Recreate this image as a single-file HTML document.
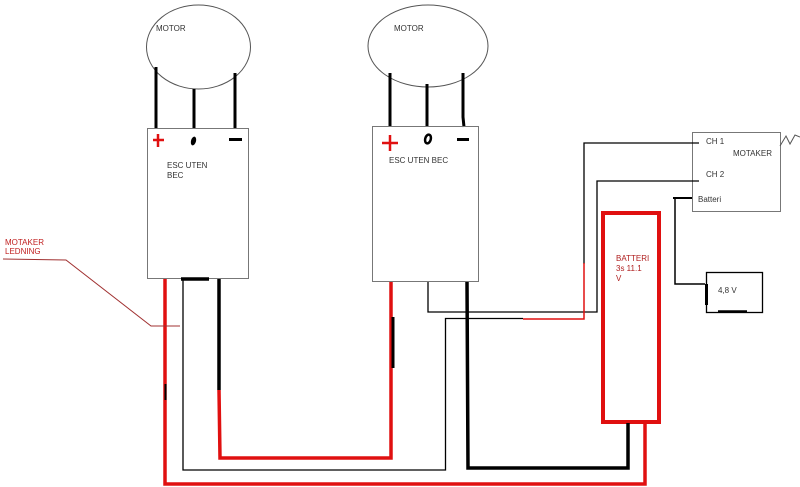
<!DOCTYPE html>
<html><head><meta charset="utf-8"><style>
html,body{margin:0;padding:0;background:#fff;}
svg{display:block;}
text{font-family:"Liberation Sans",Arial,sans-serif;font-size:8px;fill:#333;}
</style></head><body>
<svg width="800" height="487" viewBox="0 0 800 487" xmlns="http://www.w3.org/2000/svg">
<rect width="800" height="487" fill="#fff"/>
<!-- Motors -->
<ellipse cx="198.5" cy="47" rx="52" ry="42" fill="none" stroke="#555" stroke-width="1"/>
<text x="156" y="31">MOTOR</text>
<ellipse cx="428" cy="46" rx="60" ry="41" fill="none" stroke="#555" stroke-width="1"/>
<text x="394" y="31">MOTOR</text>
<!-- motor wires -->
<g stroke="#000" stroke-width="3" fill="none">
<path d="M156 67 L156 128"/>
<path d="M194 89 L194 128"/>
<path d="M235 73 L235 128"/>
<path d="M390 73 L390 127"/>
<path d="M427 84 L427 127"/>
<path d="M463 73 L463 117 L464 127"/>
</g>
<!-- ESC boxes -->
<rect x="147.5" y="128.5" width="101" height="150" fill="none" stroke="#777" stroke-width="1"/>
<rect x="372.5" y="126.5" width="106" height="155" fill="none" stroke="#777" stroke-width="1"/>
<!-- ESC1 symbols -->
<path d="M153 140 L164 140 M158 134 L158 147" stroke="#e01010" stroke-width="2.5"/>
<ellipse cx="193.5" cy="141" rx="2.5" ry="4.5" transform="rotate(15 193.5 141)" fill="#000"/>
<path d="M229 139.5 L242 139.5" stroke="#000" stroke-width="3"/>
<text x="167" y="168">ESC UTEN</text>
<text x="167" y="178">BEC</text>
<!-- ESC2 symbols -->
<path d="M382 143 L398 143 M390 135 L390 151" stroke="#e01010" stroke-width="2.5"/>
<ellipse cx="428" cy="139" rx="2.8" ry="4.5" transform="rotate(15 428 139)" fill="none" stroke="#000" stroke-width="2.5"/>
<path d="M457 139.5 L469 139.5" stroke="#000" stroke-width="3"/>
<text x="389" y="163">ESC UTEN BEC</text>
<!-- MOTAKER box -->
<rect x="692.5" y="132.5" width="88" height="79" fill="none" stroke="#777" stroke-width="1"/>
<text x="706" y="144">CH 1</text>
<text x="733" y="156">MOTAKER</text>
<text x="706" y="177">CH 2</text>
<text x="698" y="202">Batteri</text>
<path d="M780 146 L786 136 L790 144 L795 135 L800 137" fill="none" stroke="#555" stroke-width="1"/>
<!-- CH wires -->
<g stroke="#000" stroke-width="1.3" fill="none">
<path d="M699 143 L584 143 L584 264"/>
<path d="M699 181 L597 181 L597 312 L428 312 L428 282"/>
<path d="M523 318.5 L445.5 318.5 L445.5 470 L183 470 L183 279"/>
</g>
<path d="M584 263 L584 319 L523 319" fill="none" stroke="#e01010" stroke-width="1.5"/>
<!-- Batteri -> 4.8V -->
<path d="M673 198 L692 198" stroke="#000" stroke-width="2"/>
<path d="M675 198 L675 284 L705 284" fill="none" stroke="#000" stroke-width="1.5"/>
<rect x="706.5" y="272.5" width="56" height="40" fill="none" stroke="#000" stroke-width="1.3"/>
<path d="M706.5 284 L706.5 305" stroke="#000" stroke-width="3"/>
<path d="M718 311.5 L747 311.5" stroke="#000" stroke-width="2.5"/>
<text x="718" y="293">4,8 V</text>
<!-- Battery -->
<rect x="603" y="213" width="56" height="209" fill="none" stroke="#e01010" stroke-width="4"/>
<text x="616" y="261" style="fill:#b02020">BATTERI</text>
<text x="616" y="271" style="fill:#b02020">3s 11.1</text>
<text x="616" y="281" style="fill:#b02020">V</text>
<!-- power wires -->
<path d="M181 279 L209 279" stroke="#000" stroke-width="3.5"/>
<path d="M219 279 L219 390" stroke="#000" stroke-width="3.5" fill="none"/>
<path d="M219 390 L220 458 L391 458 L391 282" stroke="#e01010" stroke-width="3.5" fill="none"/>
<path d="M393 317 L393 368" stroke="#000" stroke-width="3"/>
<path d="M165 279 L165 484 L645 484 L645 423" stroke="#e01010" stroke-width="3.5" fill="none"/>
<path d="M165.5 384 L165.5 400" stroke="#000" stroke-width="2"/>
<path d="M467 282 L468 468 L628 468 L628 423" stroke="#000" stroke-width="3.5" fill="none"/>
<!-- Motaker ledning label -->
<text x="5" y="245" style="fill:#c02020">MOTAKER</text>
<text x="5" y="254" style="fill:#c02020">LEDNING</text>
<path d="M3 259 L66 260 L151 326 L180 326" fill="none" stroke="#a03030" stroke-width="1"/>
</svg>
</body></html>
